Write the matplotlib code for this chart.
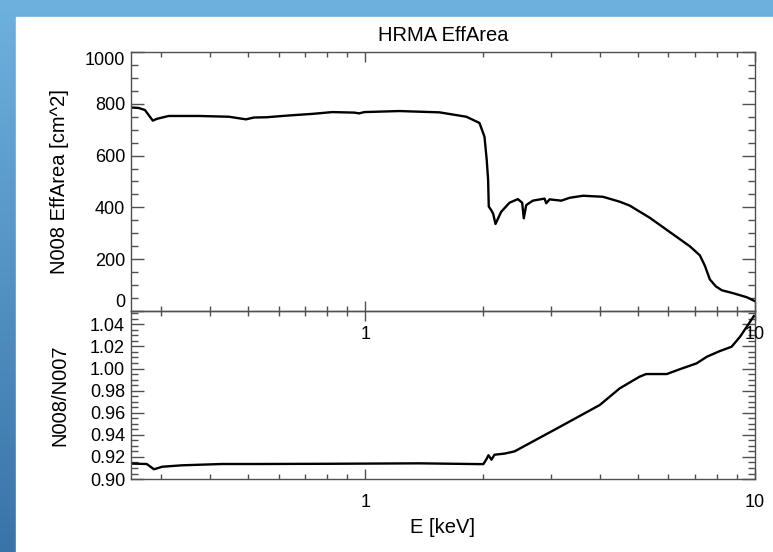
import numpy as np
import matplotlib
matplotlib.use("Agg")
import matplotlib.pyplot as plt
from matplotlib.patches import Rectangle
from matplotlib.ticker import FixedLocator, MultipleLocator, LogLocator, NullFormatter

plt.rcParams['font.family'] = ['Liberation Sans', 'DejaVu Sans']

# HRMA effective area, N008 [cm^2] vs energy [keV]
energy_area = [0.249, 0.262, 0.272, 0.285, 0.292, 0.313, 0.374, 0.447, 0.494, 0.518,
               0.557, 0.638, 0.731, 0.823, 0.937, 0.965, 0.994, 1.223, 1.550, 1.818,
               1.964, 2.023, 2.050, 2.067, 2.075, 2.104, 2.130, 2.159, 2.233, 2.345,
               2.464, 2.528, 2.552, 2.589, 2.692, 2.885, 2.914, 2.972, 3.185, 3.345,
               3.620, 4.074, 4.498, 4.772, 5.372, 6.046, 6.805, 7.222, 7.439, 7.662,
               7.939, 8.226, 8.779, 9.537, 10.0]
eff_area = [786, 784, 776, 735, 742, 753, 753, 750, 740, 747,
            748, 755, 761, 768, 766, 763, 768, 772, 767, 750,
            726, 673, 583, 506, 403, 390, 375, 336, 383, 418,
            432, 418, 358, 409, 426, 434, 416, 431, 426, 437,
            445, 441, 422, 407, 360, 305, 250, 215, 175, 122,
            95, 80, 69, 53, 38]

# ratio N008 / N007
energy_ratio = [0.249, 0.275, 0.287, 0.301, 0.338, 0.429, 0.534, 0.808, 1.377, 1.964,
                2.010, 2.047, 2.071, 2.108, 2.146, 2.277, 2.416, 3.150, 3.999, 4.497,
                5.058, 5.260, 5.940, 6.410, 7.090, 7.530, 8.130, 8.710, 8.790, 9.160,
                9.530, 9.940]
ratio = [0.9140, 0.9136, 0.9088, 0.9111, 0.9124, 0.9136, 0.9136, 0.9138, 0.9142, 0.9135,
         0.9135, 0.9180, 0.9215, 0.9175, 0.9220, 0.9230, 0.9250, 0.9470, 0.9670, 0.9820,
         0.9926, 0.9950, 0.9950, 0.9993, 1.0047, 1.0107, 1.0158, 1.0197, 1.0213, 1.0288,
         1.0378, 1.0475]

area_ticks = [0, 200, 400, 600, 800, 1000]
ratio_ticks = [0.90, 0.92, 0.94, 0.96, 0.98, 1.00, 1.02, 1.04]
ratio_labels = ["0.90", "0.92", "0.94", "0.96", "0.98", "1.00", "1.02", "1.04"]

axis_col = "#505050"
fig = plt.figure(figsize=(7.73, 5.52), dpi=100)

# blue frame behind the white page
bg = fig.add_axes([0, 0, 1, 1], zorder=-10)
grad = np.linspace(0, 1, 256).reshape(-1, 1)
cmap = matplotlib.colors.LinearSegmentedColormap.from_list("frame", ["#6eb1df", "#3a73a8"])
bg.imshow(grad, aspect="auto", cmap=cmap, extent=[0, 1, 0, 1], origin="upper")
bg.add_patch(Rectangle((16 / 773, 0), 1, (552 - 17) / 552, color="white", transform=bg.transAxes))
bg.set_xlim(0, 1)
bg.set_ylim(0, 1)
bg.axis("off")

ax1 = fig.add_axes([0.169, 0.4366, 0.8076, 0.4692])
ax2 = fig.add_axes([0.169, 0.1322, 0.8076, 0.3043])
ax1.set_zorder(2)
ax1.patch.set_alpha(0)

ax1.plot(energy_area, eff_area, color="black", lw=1.7)
ax2.plot(energy_ratio, ratio, color="black", lw=1.7)

for ax in (ax1, ax2):
    ax.set_xscale("log")
    ax.set_xlim(0.25, 10)
    ax.xaxis.set_major_locator(FixedLocator([1, 10]))
    ax.set_xticklabels(["1", "10"])
    ax.xaxis.set_minor_locator(LogLocator(base=10, subs=np.arange(2, 10)))
    ax.xaxis.set_minor_formatter(NullFormatter())
    ax.tick_params(which="both", direction="in", top=True, right=True,
                   colors=axis_col, labelcolor="black", labelsize=13, width=1)
    ax.tick_params(axis="x", which="major", length=7, pad=11)
    ax.tick_params(axis="x", which="minor", length=3.6)
    ax.tick_params(axis="y", which="major", length=9.5, pad=4)
    ax.tick_params(axis="y", which="minor", length=5)
    for s in ax.spines.values():
        s.set_color(axis_col)
        s.set_linewidth(1)

ax1.set_ylim(0, 1000)
ax1.set_yticks(area_ticks)
ax1.set_yticklabels([str(t) for t in area_ticks])
ax1.yaxis.set_minor_locator(MultipleLocator(50))
ax1.set_title("HRMA EffArea", fontsize=14.5, pad=8)
ax1.set_ylabel("N008 EffArea [cm^2]", fontsize=14.5)
ylabs = ax1.get_yticklabels()
ylabs[0].set_va("bottom")
ylabs[-1].set_va("top")

ax2.set_ylim(0.90, 1.052)
ax2.set_yticks(ratio_ticks)
ax2.set_yticklabels(ratio_labels)
ax2.yaxis.set_minor_locator(MultipleLocator(0.005))
ax2.set_ylabel("N008/N007", fontsize=14.5)
ax2.set_xlabel("E [keV]", fontsize=14.5, labelpad=5)

ax1.yaxis.set_label_coords(-0.098, 0.5)
ax2.yaxis.set_label_coords(-0.098, 0.5)

fig.savefig("out.png", dpi=100)
